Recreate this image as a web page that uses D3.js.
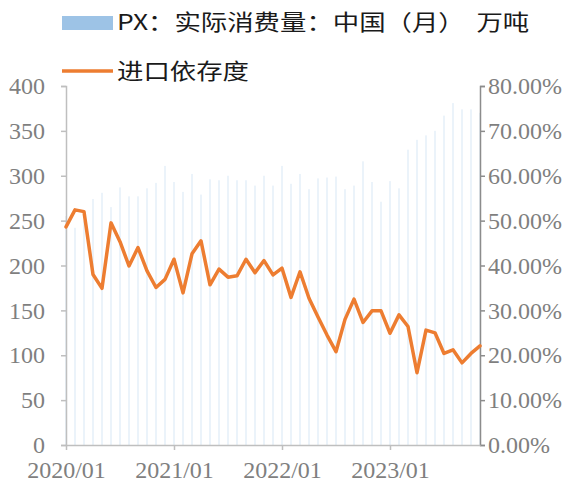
<!DOCTYPE html>
<html>
<head>
<meta charset="utf-8">
<script src="https://cdn.jsdelivr.net/npm/d3@7"></script>
<style>
  html, body { margin: 0; padding: 0; background: #fff; }
  svg { display: block; }
</style>
</head>
<body>
<svg id="chart" width="571" height="482"></svg>
<script>
// ---- data ----
const months = [
  "2020/01","2020/02","2020/03","2020/04","2020/05","2020/06","2020/07","2020/08","2020/09","2020/10","2020/11","2020/12",
  "2021/01","2021/02","2021/03","2021/04","2021/05","2021/06","2021/07","2021/08","2021/09","2021/10","2021/11","2021/12",
  "2022/01","2022/02","2022/03","2022/04","2022/05","2022/06","2022/07","2022/08","2022/09","2022/10","2022/11","2022/12",
  "2023/01","2023/02","2023/03","2023/04","2023/05","2023/06","2023/07","2023/08","2023/09","2023/10","2023/11"
];
// PX actual consumption, China (monthly), 10k tons
const consumption = [
  255, 242, 250, 274, 281, 265, 287, 277, 277, 286, 292, 311,
  293, 282, 302, 279, 296, 295, 300, 295, 295, 289, 300, 289,
  311, 291, 302, 285, 297, 298, 299, 285, 289, 316, 293, 271,
  294, 286, 329, 340, 345, 350, 367, 381, 374, 374, 370
];
// import dependency, %
const dependency = [
  48.6, 52.4, 52.0, 38.0, 34.9, 49.5, 45.3, 39.9, 44.0, 38.8, 35.1, 36.9,
  41.4, 33.9, 42.6, 45.5, 35.7, 39.2, 37.4, 37.7, 41.4, 38.4, 41.1, 37.9,
  39.4, 32.9, 38.6, 32.7, 28.5, 24.5, 20.8, 28.0, 32.5, 27.3, 29.9, 29.9,
  24.9, 29.0, 26.4, 16.1, 25.6, 25.0, 20.4, 21.2, 18.3, 20.4, 22.1
];
const leftTicks = [0, 50, 100, 150, 200, 250, 300, 350, 400];
const rightTicks = [0, 10, 20, 30, 40, 50, 60, 70, 80];
const xTickLabels = ["2020/01", "2021/01", "2022/01", "2023/01"];
const seriesNames = ["PX：实际消费量：中国（月）  万吨", "进口依存度"];

// ---- layout ----
const svg = d3.select("#chart");
const X0 = 66, X1 = 480, Y0 = 445, Y1 = 86;
const barColor = "#9dc3e6", lineColor = "#ed7d31";
const tickFont = "Liberation Serif";
const tickColor = "#7f7f7f";

const x = d3.scaleLinear().domain([0, months.length - 1]).range([X0, X1]);
const yL = d3.scaleLinear().domain([0, 400]).range([Y0, Y1]);
const yR = d3.scaleLinear().domain([0, 80]).range([Y0, Y1]);

// bars
svg.append("g").selectAll("rect").data(consumption).join("rect")
  .attr("x", (d, i) => x(i) - 0.5)
  .attr("width", 1)
  .attr("y", d => yL(d))
  .attr("height", d => Y0 - yL(d))
  .attr("fill", barColor)
  .attr("fill-opacity", 0.42);

// axes
function styleAxis(g, lineCol) {
  g.attr("font-family", tickFont).attr("font-size", 24);
  g.select(".domain").attr("stroke", lineCol).attr("stroke-width", 1.5);
  g.selectAll(".tick line").attr("stroke", lineCol).attr("stroke-width", 1.5);
  g.selectAll(".tick text")
    .attr("fill", tickColor)
    .attr("font-family", tickFont)
    .attr("font-size", 24);
}

const axL = svg.append("g").attr("transform", `translate(${X0},0)`)
  .call(d3.axisLeft(yL).tickValues(leftTicks).tickSize(5).tickPadding(16).tickSizeOuter(5));
styleAxis(axL, "#bfbfbf");

const axR = svg.append("g").attr("transform", `translate(${X1},0)`)
  .call(d3.axisRight(yR).tickValues(rightTicks).tickSize(5).tickPadding(3).tickSizeOuter(5)
    .tickFormat(d => d.toFixed(2) + "%"));
styleAxis(axR, "#8c8c8c");

const xTickIdx = xTickLabels.map(l => months.indexOf(l));
const axB = svg.append("g").attr("transform", `translate(0,${Y0})`)
  .call(d3.axisBottom(x).tickValues(xTickIdx).tickSize(5).tickPadding(11).tickSizeOuter(0)
    .tickFormat(i => months[i]));
styleAxis(axB, "#bfbfbf");

// line
svg.append("path")
  .datum(dependency)
  .attr("fill", "none")
  .attr("stroke", lineColor)
  .attr("stroke-width", 3.5)
  .attr("stroke-linejoin", "round")
  .attr("stroke-linecap", "round")
  .attr("d", d3.line().x((d, i) => x(i)).y(d => yR(d)));

// legend
const legendFont = "Noto Sans CJK SC";
const lg = svg.append("g");
lg.append("rect").attr("x", 62).attr("y", 16).attr("width", 51).attr("height", 14).attr("fill", barColor);
lg.append("line").attr("x1", 62).attr("x2", 113).attr("y1", 71).attr("y2", 71)
  .attr("stroke", lineColor).attr("stroke-width", 3.5);
[[30, seriesNames[0]], [79, seriesNames[1]]].forEach(([yy, t]) => {
  lg.append("text")
    .attr("transform", `translate(117,${yy}) scale(1.2,1)`)
    .attr("fill", "#1a1a1a")
    .attr("font-family", legendFont)
    .attr("font-size", 22)
    .style("white-space", "pre")
    .text(t);
});
</script>
</body>
</html>
